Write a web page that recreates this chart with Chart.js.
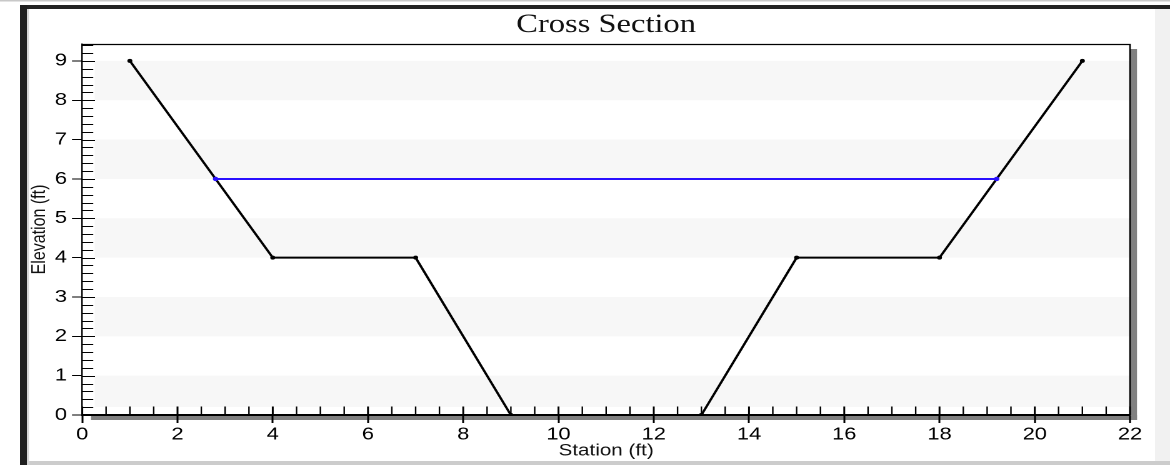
<!DOCTYPE html>
<html><head><meta charset="utf-8">
<script src="https://cdn.jsdelivr.net/npm/chart.js@4/dist/chart.umd.min.js"></script>
<style>
html,body{margin:0;padding:0;background:#fff;overflow:hidden;width:1170px;height:465px;}
#wrap{position:absolute;left:0;top:0;width:936px;height:465px;transform:scaleX(1.25);transform-origin:0 0;}
canvas{display:block;}
</style></head><body>
<div id="wrap"><canvas id="c"></canvas></div>
<script>
const groundStation = [1, 4, 7, 9, 13, 15, 18, 21];
const groundElevation = [9, 4, 4, 0, 0, 4, 4, 9];
const waterStation = [2.8, 19.2];
const waterElevation = [6, 6];
const xTickValues = [0, 2, 4, 6, 8, 10, 12, 14, 16, 18, 20, 22];
const yTickValues = [0, 1, 2, 3, 4, 5, 6, 7, 8, 9];
const xMinorStep = 0.5;
const yMinorStep = 0.2;
const yTop = 9.43;

const SANS = '"Liberation Sans", Arial, sans-serif';
const SERIF = '"Liberation Serif", "Times New Roman", serif';

const framePlugin = {
  id: 'frame',
  beforeDraw(chart) {
    const ctx = chart.ctx, W = chart.width, H = chart.height;
    const a = chart.chartArea, y = chart.scales.y;
    ctx.save();
    ctx.fillStyle = '#ffffff'; ctx.fillRect(0, 0, W, H);
    ctx.fillStyle = '#c8c8c8'; ctx.fillRect(0, 0, W, 1.5);
    ctx.fillStyle = '#222222'; ctx.fillRect(16, 5, W - 16, 4);
    ctx.fillStyle = '#1e1e1e'; ctx.fillRect(16, 5, 5.6, H - 5);
    ctx.fillStyle = '#d4d4d4'; ctx.fillRect(21.6, 9, 1.6, H - 9);
    ctx.fillStyle = '#f1f1f1'; ctx.fillRect(924, 9, W - 924, H - 9);
    ctx.fillStyle = '#cccccc'; ctx.fillRect(23.2, 461, W - 23.2, 4);
    ctx.fillStyle = '#808080';
    ctx.fillRect(a.right, 49, 5.6, 420 - 49);
    ctx.fillRect(72.8, a.bottom, a.right + 5.6 - 72.8, 420 - a.bottom);
    ctx.fillStyle = '#f7f7f7';
    yTickValues.forEach(v => {
      if (v % 2 === 0 && v + 1 <= yTop) {
        const t = y.getPixelForValue(v + 1);
        let b = y.getPixelForValue(v);
        if (v === 0) b -= 8;
        ctx.fillRect(a.left + 10, t, a.right - a.left - 10, b - t);
      }
    });
    ctx.restore();
  },
  beforeDatasetsDraw(chart) {
    const ctx = chart.ctx, a = chart.chartArea;
    const xs = chart.scales.x, ys = chart.scales.y;
    ctx.save();
    ctx.strokeStyle = '#000';
    ctx.lineWidth = 1;
    for (let k = 0; k * yMinorStep <= yTop + 1e-9; k++) {
      const v = k * yMinorStep;
      const p = Math.round(ys.getPixelForValue(v)) + 0.5;
      const major = k % 5 === 0;
      const len = major ? 10.2 : 8.8;
      ctx.beginPath(); ctx.moveTo(a.left, p); ctx.lineTo(a.left + len, p); ctx.stroke();
    }
    for (let k = 0; k * xMinorStep <= 22 + 1e-9; k++) {
      const v = k * xMinorStep;
      const p = xs.getPixelForValue(v);
      const major = k % 4 === 0;
      ctx.lineWidth = major ? 1.5 : 1.2;
      ctx.beginPath(); ctx.moveTo(p, a.bottom); ctx.lineTo(p, a.bottom - 8.5); ctx.stroke();
    }
    ctx.lineWidth = 1.2;
    ctx.beginPath();
    ctx.moveTo(a.left, a.top + 0.5); ctx.lineTo(a.right, a.top + 0.5); ctx.lineTo(a.right, a.bottom);
    ctx.stroke();
    ctx.restore();
  }
};

const groundData = groundStation.map((s, i) => ({ x: s, y: groundElevation[i] }));
const waterData = waterStation.map((s, i) => ({ x: s, y: waterElevation[i] }));

new Chart(document.getElementById('c'), {
  type: 'line',
  data: {
    datasets: [
      { label: 'Water', data: waterData, borderColor: '#2a10ff', backgroundColor: '#2a10ff',
        borderWidth: 2, pointRadius: 2.2, pointBorderWidth: 0, tension: 0 },
      { label: 'Ground', data: groundData, borderColor: '#000', backgroundColor: '#000',
        borderWidth: 2, pointRadius: 2, pointBorderWidth: 0, tension: 0 }
    ]
  },
  options: {
    responsive: true,
    maintainAspectRatio: false,
    animation: false,
    devicePixelRatio: 2,
    layout: { padding: { left: 22, right: 32, top: 8, bottom: 4 } },
    plugins: {
      legend: { display: false },
      tooltip: { enabled: false },
      title: {
        display: true, text: 'Cross Section', color: '#111', fullSize: false,
        font: { family: SERIF, size: 26, weight: 'normal', lineHeight: 1 },
        padding: { top: 4, bottom: 6 }
      }
    },
    scales: {
      x: {
        type: 'linear', min: 0, max: 22,
        grid: { drawOnChartArea: false, drawTicks: true, tickLength: 8, tickWidth: 1.5, tickColor: '#000' },
        border: { display: true, color: '#000', width: 2 },
        ticks: {
          stepSize: 2, padding: 1, color: '#000', maxRotation: 0, autoSkip: false,
          font: { family: SANS, size: 17.5 },
          callback: v => xTickValues.includes(v) ? String(v) : ''
        },
        title: { display: true, text: 'Station (ft)', color: '#111', padding: 0, font: { family: SANS, size: 16.5 } },
        afterFit(s) { s.height = 46; }
      },
      y: {
        type: 'linear', min: 0, max: yTop, bounds: 'data',
        grid: { drawOnChartArea: false, drawTicks: true, tickLength: 8.2, tickWidth: 1, tickColor: '#000' },
        border: { display: true, color: '#000', width: 1.2 },
        ticks: {
          stepSize: 1, includeBounds: false, padding: 4, color: '#000',
          font: { family: SANS, size: 17.5 },
          callback: v => yTickValues.includes(v) ? String(v) : ''
        },
        title: { display: true, text: 'Elevation (ft)', color: '#111', padding: 0, font: { family: SANS, size: 16 } },
        afterFit(s) { s.width = 43.8; }
      }
    }
  },
  plugins: [framePlugin]
});
</script>
</body></html>
